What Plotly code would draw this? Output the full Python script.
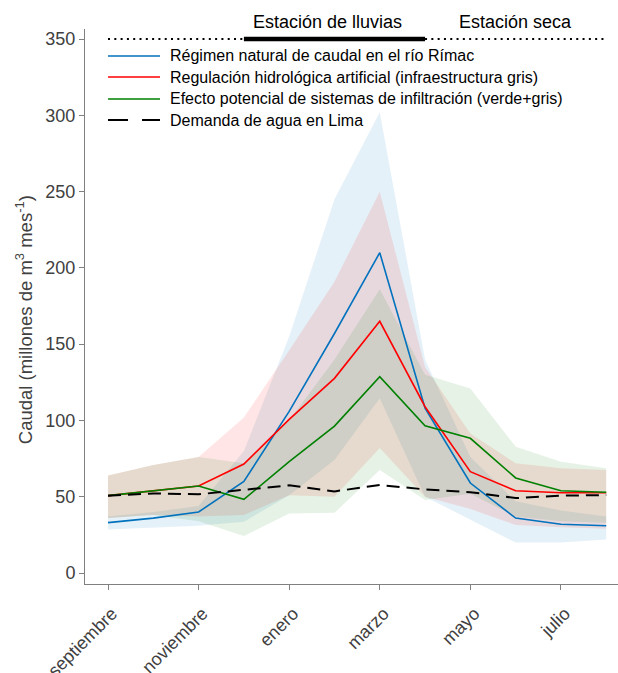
import plotly.graph_objects as go

# Monthly series, hydrological year September -> August
meses = ["septiembre", "octubre", "noviembre", "diciembre", "enero", "febrero",
         "marzo", "abril", "mayo", "junio", "julio", "agosto"]
etiquetas = ["septiembre", "noviembre", "enero", "marzo", "mayo", "julio"]

natural = [33, 36, 40, 60, 106, 157, 210, 108, 59, 36, 32, 31]
natural_min = [28.6, 29.7, 31, 33.6, 51, 74, 114.5, 50, 35, 20, 20, 22]
natural_max = [37, 40, 44, 80, 155, 245, 302, 140, 76, 47, 41, 37]

gris = [50.7, 53.7, 57, 71.4, 100.7, 127.6, 165, 109, 66.4, 53.9, 52.6, 52.6]
gris_min = [36, 38, 37, 38, 51, 50, 82, 50, 42, 31.5, 30, 29]
gris_max = [64, 70.8, 76, 102, 146, 191, 250, 135, 91.5, 72, 68.6, 67.5]

verde = [50.7, 53.7, 57, 48.3, 73, 96.3, 128.7, 96.5, 88.3, 62.3, 53.9, 52.9]
verde_min = [36, 38, 34, 24.2, 39, 39.5, 67.5, 47.8, 52, 37, 34, 33]
verde_max = [64, 70.8, 76, 72, 100, 140, 186, 130, 121, 82.8, 73, 68.6]

demanda = [50.7, 52.2, 51.6, 54.4, 57.5, 53.5, 57.7, 54.8, 53, 49.1, 50.7, 51.1]

# Season bar: rainy season from diciembre (3) to abril (7)
nivel_estacion = 350
lluvias_ini, lluvias_fin = 3, 7

series = [
    ("Régimen natural de caudal en el río Rímac", natural, natural_min, natural_max, (0, 114, 189)),
    ("Regulación hidrológica artificial (infraestructura gris)", gris, gris_min, gris_max, (255, 0, 0)),
    ("Efecto potencial de sistemas de infiltración (verde+gris)", verde, verde_min, verde_max, (0, 128, 0)),
]

x = list(range(len(meses)))
fig = go.Figure()

# uncertainty envelopes
for nombre, med, lo, hi, (r, g, b) in series:
    fig.add_trace(go.Scatter(
        x=x + x[::-1], y=hi + lo[::-1], fill="toself",
        fillcolor=f"rgba({r},{g},{b},0.1)", line=dict(width=0),
        hoverinfo="skip", showlegend=False, mode="lines"))

# central lines
for nombre, med, lo, hi, (r, g, b) in series:
    fig.add_trace(go.Scatter(
        x=x, y=med, mode="lines", name=nombre,
        line=dict(color=f"rgb({r},{g},{b})", width=1.6), showlegend=False))

fig.add_trace(go.Scatter(
    x=x, y=demanda, mode="lines", name="Demanda de agua en Lima",
    line=dict(color="black", width=2, dash="13px,7px"), showlegend=False))

# season indicator
ultimo = len(meses) - 1
fig.add_trace(go.Scatter(x=[0, lluvias_ini], y=[nivel_estacion] * 2, mode="lines",
                         line=dict(color="black", width=2, dash="2px,4.3px"),
                         showlegend=False, hoverinfo="skip"))
fig.add_trace(go.Scatter(x=[lluvias_fin, ultimo], y=[nivel_estacion] * 2, mode="lines",
                         line=dict(color="black", width=2, dash="2px,4.3px"),
                         showlegend=False, hoverinfo="skip"))
fig.add_trace(go.Scatter(x=[lluvias_ini, lluvias_fin], y=[nivel_estacion] * 2, mode="lines",
                         line=dict(color="black", width=4.5),
                         showlegend=False, hoverinfo="skip"))

fuente = "Liberation Sans, Arial, Helvetica, sans-serif"
annotations = [
    dict(x=4.85, y=1.0126, xref="x", yref="paper", text="Estación de lluvias",
         showarrow=False, font=dict(size=18, color="black", family=fuente),
         xanchor="center", yanchor="middle"),
    dict(x=9.0, y=1.0126, xref="x", yref="paper", text="Estación seca",
         showarrow=False, font=dict(size=18, color="black", family=fuente),
         xanchor="center", yanchor="middle"),
    # y-axis title
    dict(x=-0.114, y=0.4757, xref="paper", yref="paper",
         text="Caudal (millones de m<sup>3</sup> mes<sup>-1</sup>)", textangle=-90,
         showarrow=False, xanchor="center", yanchor="middle",
         font=dict(size=18.5, color="#404040", family=fuente)),
]

# hand-built legend in the upper-left corner
leyenda = [(s[0], f"rgb{s[4]}", "solid") for s in series] + \
          [("Demanda de agua en Lima", "black", "20px,14px")]
filas_y = [0.9514, 0.9135, 0.8739, 0.836]
shapes = []
for (texto, color, dash), yy in zip(leyenda, filas_y):
    shapes.append(dict(type="line", xref="paper", yref="paper",
                       x0=0.0432, x1=0.1407, y0=yy, y1=yy,
                       line=dict(color=color, width=2 if dash != "solid" else 1.6, dash=dash)))
    annotations.append(dict(x=0.1557, y=yy, xref="paper", yref="paper", text=texto,
                            showarrow=False, xanchor="left", yanchor="middle",
                            font=dict(size=16, color="black", family=fuente)))

eje = dict(showline=True, linecolor="#808080", linewidth=1, ticks="outside",
           tickcolor="#808080", ticklen=5, showgrid=False, zeroline=False,
           automargin=False,
           tickfont=dict(size=18, color="#404040", family=fuente))

fig.update_layout(
    width=618, height=673,
    margin=dict(l=85, r=0, t=29, b=89, autoexpand=False),
    plot_bgcolor="white", paper_bgcolor="white",
    font=dict(family=fuente),
    xaxis=dict(eje, range=[-0.508, 11.26], tickmode="array",
               tickvals=[meses.index(m) for m in etiquetas], ticktext=etiquetas,
               tickangle=-45, ticklabelstandoff=6, ticklabelshift=4),
    yaxis=dict(eje, range=[-7.2, 356.6], tickvals=[0, 50, 100, 150, 200, 250, 300, 350]),
    annotations=annotations, shapes=shapes,
)

fig.write_html("out.html")
